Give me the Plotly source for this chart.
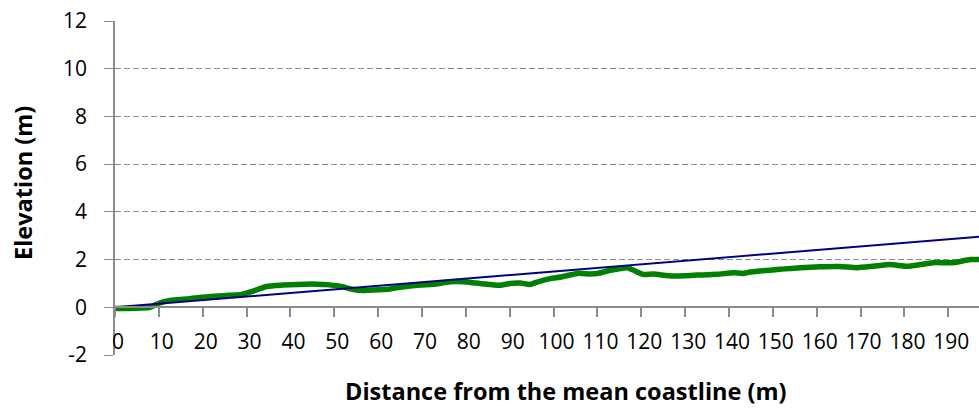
import plotly.graph_objects as go

# Green profile (distance in m, elevation in m)
distance = [0, 3, 6, 8, 10, 12.5, 17, 21.7, 26, 29, 31.5, 34.6, 38.3, 41.5, 46,
            48.3, 51.3, 53.6, 55.9, 60.4, 62.7, 65, 69.6, 72.5, 76.4, 79.4, 83.2,
            87.8, 90, 92.4, 94.6, 97, 99.2, 102, 105.4, 108.3, 110, 112.9, 116.8,
            118, 120.4, 122.7, 127.2, 132.7, 137.3, 141, 143.2, 144.8, 147, 151.6,
            156.2, 160.8, 165.3, 169.2, 172.9, 176.7, 180.6, 183.6, 186.5, 191.1,
            195, 197]
elevation = [-0.05, -0.05, -0.03, 0.0, 0.17, 0.29, 0.36, 0.45, 0.50, 0.54, 0.68,
             0.87, 0.93, 0.96, 0.97, 0.95, 0.88, 0.78, 0.71, 0.74, 0.77, 0.84, 0.93,
             0.96, 1.07, 1.07, 1.0, 0.92, 1.0, 1.02, 0.96, 1.1, 1.2, 1.28, 1.42, 1.4,
             1.42, 1.55, 1.66, 1.57, 1.38, 1.39, 1.31, 1.35, 1.38, 1.45, 1.42, 1.48,
             1.52, 1.59, 1.66, 1.70, 1.71, 1.66, 1.72, 1.79, 1.72, 1.79, 1.87, 1.87,
             2.0, 2.0]

# Straight reference line
trend_x = [0, 200]
trend_y = [0, 3.0]

x_ticks = list(range(0, 200, 10))
y_ticks = list(range(-2, 14, 2))
y_tick_text = [str(v) for v in y_ticks]  # plain hyphen for -2

FONT = "Open Sans"
TICK_SIZE = 21
TITLE_SIZE = 23.5

fig = go.Figure()
fig.add_trace(go.Scatter(x=distance, y=elevation, mode="lines",
                         line=dict(color="#008000", width=5.5, shape="spline", smoothing=0.6),
                         showlegend=False, hoverinfo="skip"))
fig.add_trace(go.Scatter(x=trend_x, y=trend_y, mode="lines",
                         line=dict(color="#000080", width=2),
                         showlegend=False, hoverinfo="skip"))

fig.update_layout(
    width=979, height=408,
    margin=dict(l=115, r=0, t=21, b=53, autoexpand=False),
    paper_bgcolor="white", plot_bgcolor="white",
    font=dict(family=FONT, size=TICK_SIZE, color="black"),
    xaxis=dict(range=[0, 197], tickvals=x_ticks, showgrid=False, zeroline=False,
               automargin=False,
               anchor="free", position=1/7, showline=True, linecolor="#8c8c8c",
               linewidth=1.5, ticks="outside", ticklen=9, tickcolor="#8c8c8c",
               tickwidth=1.5, ticklabelshift=3, ticklabelstandoff=7,
               tickfont=dict(family=FONT, size=TICK_SIZE, color="black")),
    yaxis=dict(range=[-2, 12], tickvals=y_ticks, ticktext=y_tick_text, domain=[0, 1],
               automargin=False,
               showgrid=True, gridcolor="#8c8c8c", griddash="6px,3px", gridwidth=1,
               zeroline=False, showline=True, linecolor="#8c8c8c", linewidth=1.5,
               ticks="outside", ticklen=9, tickcolor="#8c8c8c", tickwidth=1,
               ticklabelstandoff=13,
               tickfont=dict(family=FONT, size=TICK_SIZE, color="black")),
    annotations=[
        dict(text="<b>Elevation (m)</b>", xref="paper", yref="paper",
             x=-(115 - 23)/864, y=(355 - 183)/334, xanchor="center", yanchor="middle",
             textangle=-90, showarrow=False,
             font=dict(family=FONT, size=TITLE_SIZE, color="black")),
        dict(text="<b>Distance from the mean coastline (m)</b>", xref="paper", yref="paper",
             x=(566 - 115)/864, y=-(391 - 355)/334, xanchor="center", yanchor="middle",
             showarrow=False, font=dict(family=FONT, size=TITLE_SIZE, color="black")),
    ],
)

fig.write_html("out.html", config={"displayModeBar": False},
               post_script="document.body.style.margin='0';document.body.style.overflow='hidden';")
